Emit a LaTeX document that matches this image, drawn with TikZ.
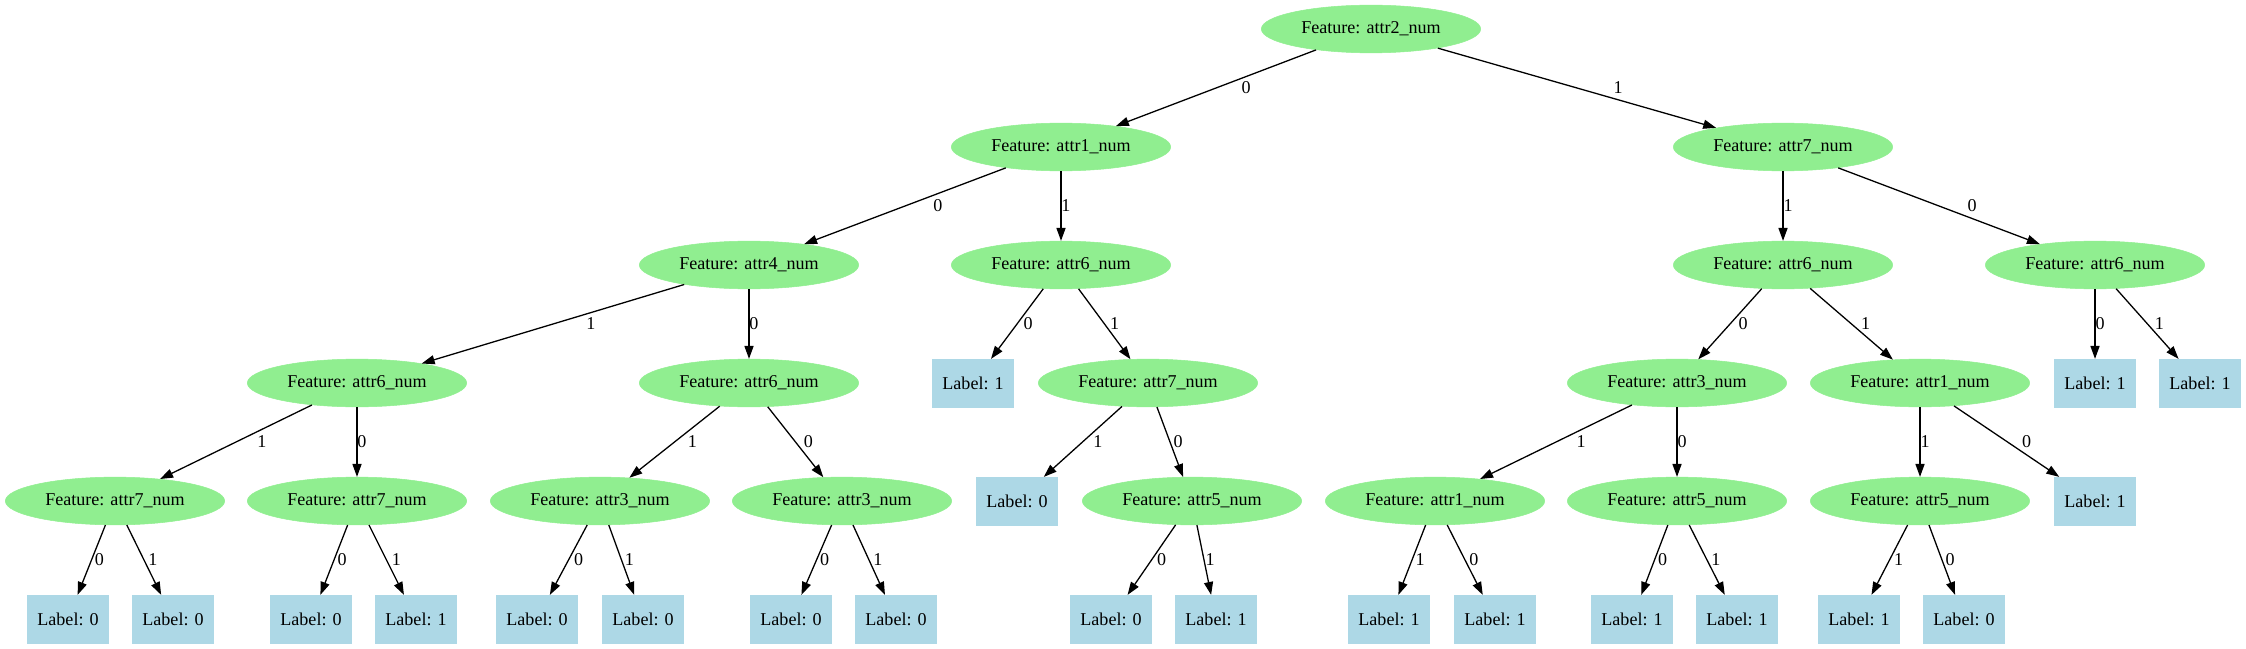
\documentclass[tikz,border=0pt]{standalone}
\usepackage{fontspec}
\setmainfont{Liberation Serif}
\usetikzlibrary{arrows.meta,shapes.geometric}
\definecolor{featgreen}{HTML}{90EE90}
\definecolor{leafblue}{HTML}{ADD8E6}
\newcommand{\tedge}[4]{\draw[edgeline] (#1) -- node[elabel, xshift=#4*0.775pt] {#3} (#2);}
\begin{document}
\begin{tikzpicture}[x=0.775pt, y=-0.775pt,
  feat/.style={ellipse, fill=featgreen, draw=featgreen, minimum width=170pt, minimum height=37pt, inner sep=0pt, font=\fontsize{14}{16}\selectfont},
  leaf/.style={rectangle, fill=leafblue, draw=leafblue, minimum width=63pt, minimum height=37pt, inner sep=0pt, font=\fontsize{14}{16}\selectfont},
  edgeline/.style={draw=black, line width=1pt, -{Triangle[length=10pt,width=7pt]}},
  elabel/.style={font=\fontsize{14}{16}\selectfont, inner sep=0pt}]
\useasboundingbox (0,0) rectangle (2246,649);
% row 0
\node[feat] (r) at (1371,29) {Feature: attr2\_num};
% row 1
\node[feat] (a) at (1061,147) {Feature: attr1\_num};
\node[feat] (b) at (1783,147) {Feature: attr7\_num};
% row 2
\node[feat] (c) at (749,265) {Feature: attr4\_num};
\node[feat] (d) at (1061,265) {Feature: attr6\_num};
\node[feat] (e) at (1783,265) {Feature: attr6\_num};
\node[feat] (f) at (2095,265) {Feature: attr6\_num};
% row 3
\node[feat] (g) at (357,383) {Feature: attr6\_num};
\node[feat] (h) at (749,383) {Feature: attr6\_num};
\node[leaf] (L1) at (973,383) {Label: 1};
\node[feat] (i) at (1148,383) {Feature: attr7\_num};
\node[feat] (j) at (1677,383) {Feature: attr3\_num};
\node[feat] (k) at (1920,383) {Feature: attr1\_num};
\node[leaf] (L2) at (2095,383) {Label: 1};
\node[leaf] (L3) at (2200,383) {Label: 1};
% row 4
\node[feat] (m) at (115,501) {Feature: attr7\_num};
\node[feat] (n) at (357,501) {Feature: attr7\_num};
\node[feat] (o) at (600,501) {Feature: attr3\_num};
\node[feat] (p) at (842,501) {Feature: attr3\_num};
\node[leaf] (L4) at (1017,501) {Label: 0};
\node[feat] (q) at (1192,501) {Feature: attr5\_num};
\node[feat] (s) at (1435,501) {Feature: attr1\_num};
\node[feat] (t) at (1677,501) {Feature: attr5\_num};
\node[feat] (u) at (1920,501) {Feature: attr5\_num};
\node[leaf] (L5) at (2095,501) {Label: 1};
% row 5
\node[leaf] (v1) at (68,619) {Label: 0};
\node[leaf] (v2) at (173,619) {Label: 0};
\node[leaf] (v3) at (311,619) {Label: 0};
\node[leaf] (v4) at (416,619) {Label: 1};
\node[leaf] (v5) at (537,619) {Label: 0};
\node[leaf] (v6) at (643,619) {Label: 0};
\node[leaf] (v7) at (791,619) {Label: 0};
\node[leaf] (v8) at (896,619) {Label: 0};
\node[leaf] (v9) at (1111,619) {Label: 0};
\node[leaf] (v10) at (1216,619) {Label: 1};
\node[leaf] (v11) at (1389,619) {Label: 1};
\node[leaf] (v12) at (1495,619) {Label: 1};
\node[leaf] (v13) at (1632,619) {Label: 1};
\node[leaf] (v14) at (1737,619) {Label: 1};
\node[leaf] (v15) at (1859,619) {Label: 1};
\node[leaf] (v16) at (1964,619) {Label: 0};
% edges
\tedge{r}{a}{0}{30}
\tedge{r}{b}{1}{41}
\tedge{a}{c}{0}{33}
\tedge{a}{d}{1}{5}
\tedge{b}{e}{1}{5}
\tedge{b}{f}{0}{33}
\tedge{c}{g}{1}{38}
\tedge{c}{h}{0}{5}
\tedge{d}{L1}{0}{11}
\tedge{d}{i}{1}{10}
\tedge{e}{j}{0}{13}
\tedge{e}{k}{1}{14}
\tedge{f}{L2}{0}{5}
\tedge{f}{L3}{1}{12}
\tedge{g}{m}{1}{26}
\tedge{g}{n}{0}{5}
\tedge{h}{o}{1}{18}
\tedge{h}{p}{0}{13}
\tedge{i}{L4}{1}{15}
\tedge{i}{q}{0}{8}
\tedge{j}{s}{1}{25}
\tedge{j}{t}{0}{5}
\tedge{k}{u}{1}{5}
\tedge{k}{L5}{0}{20}
\tedge{m}{v1}{0}{8}
\tedge{m}{v2}{1}{9}
\tedge{n}{v3}{0}{8}
\tedge{n}{v4}{1}{10}
\tedge{o}{v5}{0}{10}
\tedge{o}{v6}{1}{8}
\tedge{p}{v7}{0}{8}
\tedge{p}{v8}{1}{9}
\tedge{q}{v9}{0}{10}
\tedge{q}{v10}{1}{6}
\tedge{s}{v11}{1}{8}
\tedge{s}{v12}{0}{9}
\tedge{t}{v13}{0}{8}
\tedge{t}{v14}{1}{9}
\tedge{u}{v15}{1}{9}
\tedge{u}{v16}{0}{8}
\end{tikzpicture}
\end{document}
